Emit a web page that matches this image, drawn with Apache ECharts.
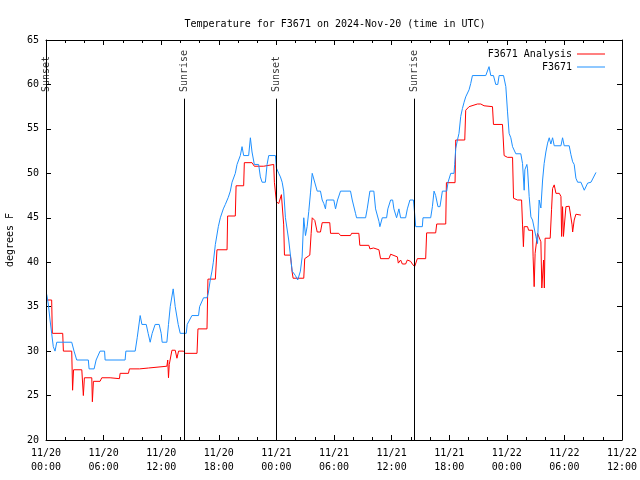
<!DOCTYPE html>
<html>
<head>
<meta charset="utf-8">
<script src="https://cdn.jsdelivr.net/npm/echarts@6/dist/echarts.min.js"></script>
<style>
html,body{margin:0;padding:0;background:#fff;}
#chart{width:640px;height:480px;}
</style>
</head>
<body>
<div id="chart"></div>
<script>
// Hours since 2024-11-20 00:00 UTC
const blueHours = [0.07,0.24,0.42,0.59,0.76,0.94,1.12,2.68,2.92,3.20,4.41,4.49,5.01,5.22,5.63,6.10,6.16,6.33,8.24,8.32,9.29,9.50,9.81,9.91,9.99,10.44,10.64,10.85,11.06,11.37,11.79,12.00,12.10,12.59,12.76,12.94,13.25,13.46,13.77,13.98,14.61,14.71,15.20,15.89,16.00,16.41,16.77,16.90,17.11,17.29,17.43,17.64,17.95,18.16,18.47,18.68,18.99,19.20,19.38,19.72,19.90,20.24,20.42,20.59,21.11,21.29,21.46,21.70,22.15,22.33,22.51,22.85,23.03,23.20,23.90,24.00,24.24,24.42,24.60,24.76,24.94,25.28,25.46,25.64,25.98,26.22,26.50,26.68,26.85,27.03,27.20,27.37,27.55,27.73,27.89,28.25,28.59,28.77,28.94,29.11,29.22,29.98,30.16,30.37,30.68,31.72,31.90,32.24,32.35,33.29,33.46,33.74,34.15,34.33,34.68,34.78,35.03,35.48,35.61,35.90,36.11,36.24,36.52,36.76,36.94,37.46,37.64,37.91,38.27,38.40,38.51,39.20,39.27,40.07,40.25,40.42,40.59,40.83,41.04,41.29,41.74,41.88,42.16,42.50,42.57,42.68,42.86,43.02,43.20,43.38,43.55,43.72,44.07,44.24,44.42,45.81,45.98,46.15,46.33,46.61,46.85,47.06,47.20,47.66,47.90,48.07,48.24,48.42,48.60,48.94,49.46,49.64,49.81,49.88,50.09,50.16,50.33,50.51,50.68,51.03,51.20,51.37,51.55,51.73,51.89,52.07,52.25,52.42,52.59,52.77,52.94,53.64,53.81,53.98,54.50,54.68,54.86,55.02,55.20,55.38,55.72,56.07,56.42,56.77,57.29];
const blueTemps = [36.4,35.3,33.5,32,30.5,30,31,31,30,29,29,28,28,29,30,30,29,29,29,30,30,31.5,34,34,33,33,32,31,32,33,33,32,31,31,33,35,37,35,33,32,32,33,34,34,35,36,36,36.5,38,39,40,42,44,45,46,46.5,47.3,48,49,50,51,52,53,52,52,54,52.4,51,51,49.6,49,49,51,52,52,50.6,50,49.6,49,48,45,42.5,40.8,39,38.5,38,39,40.6,45,43,44,45.7,47.8,50,50,48,48,47,46.6,46,47,47,46,47,48,48,47,45.5,45,45,46,48,48,46,44.6,44,45,45,46,47,47,46,45,46,45,45,46,47,47,45.5,44,44,45,45,46.25,48,47.5,46.25,46.25,48,48,49,50,50,51,52.8,53.75,54.5,56.4,57.3,58,58.6,59.4,60.1,61,61,61.2,62,61,61,60,60,61,61,59.75,57,54.5,54,53,52.2,52.2,51.1,48.1,50.4,51,50.5,47.4,45.1,44.75,42.9,42.1,47,46.1,49.25,51.1,52.4,53.4,54,53.3,54,53.1,53.1,54,53.1,53.1,52.1,51.3,51,49.45,49,49,48.1,48.9,49,50.1];

const redHours = [0.07,0.59,0.66,1.74,1.81,2.68,2.77,2.87,3.73,3.89,4.00,4.77,4.83,4.94,5.63,5.81,6.68,6.86,7.65,7.72,8.59,8.69,9.74,9.81,10.68,10.78,12.59,12.68,12.76,12.84,13.12,13.46,13.64,13.81,14.33,14.50,15.73,15.83,16.77,16.87,17.64,17.81,18.86,18.92,19.72,19.80,20.59,20.66,21.46,21.70,22.68,22.85,23.72,23.79,24.00,24.24,24.52,24.70,24.76,24.84,25.46,25.64,25.74,26.85,26.95,27.48,27.62,27.73,28.00,28.25,28.59,28.77,29.56,29.64,30.50,30.68,31.72,31.83,32.59,32.69,33.63,33.74,34.12,34.68,34.85,35.72,35.90,36.60,36.70,36.94,37.12,37.46,37.64,37.98,38.16,38.40,38.68,39.55,39.65,40.59,40.70,41.64,41.71,42.61,42.68,43.62,43.72,44.07,44.94,45.29,45.63,46.51,46.61,47.55,47.72,48.07,48.60,48.70,49.11,49.54,49.64,49.73,49.81,50.16,50.27,50.68,50.74,50.85,50.95,51.20,51.55,51.65,51.83,51.91,51.99,52.52,52.66,52.77,52.94,53.12,53.47,53.64,53.71,53.81,53.90,54.16,54.50,54.80,54.86,55.02,55.20,55.72];
const redTemps = [35.75,35.75,32,32,30,30,25.6,27.9,27.9,25,27,27,24.3,26.6,26.6,27,27,26.9,26.9,27.5,27.5,28,28,28.1,28.1,28.3,28.3,29,27,28.5,30.1,30.1,29.2,30,30,29.75,29.75,32.5,32.5,38.1,38.1,41.4,41.4,45.2,45.2,48.6,48.6,51.2,51.2,50.8,50.8,51,51,49,46.8,46.6,47.6,47.6,44.2,40.8,40.8,38.9,38.2,38.2,40.4,40.8,43.25,45,44.7,43.4,43.4,44.45,44.45,43.25,43.25,43,43,43.25,43.25,41.9,41.9,41.5,41.6,41.4,40.4,40.4,40.9,40.6,39.9,40.25,39.8,39.8,40.25,40.1,39.8,39.5,40.4,40.4,43.3,43.3,44.3,44.3,48.95,48.95,53.75,53.75,57.1,57.5,57.8,57.8,57.6,57.5,55.5,55.5,52,51.8,51.8,47.2,47,47,44.2,41.75,44,44,43.6,43.6,40.6,37.25,41,43.25,42.3,37.1,40.25,37.1,42.7,42.7,45.9,48.3,48.7,47.75,47.75,47.4,42.9,46.25,42.9,46.25,46.3,44.2,43.4,44.75,45.4,45.3];

const sunHours = [0, 14.4, 24, 38.4];
const sunLabels = ['Sunset', 'Sunrise', 'Sunset', 'Sunrise'];

const yTicks = [20,25,30,35,40,45,50,55,60,65];

const FONT = '"DejaVu Sans Mono", "Liberation Mono", monospace';
const zip = (a, b) => a.map((v, i) => [v, b[i]]);
const pad = n => (n < 10 ? '0' : '') + n;
const fmtX = v => {
  const day = 20 + Math.floor(v / 24);
  const hr = Math.round(v % 24);
  return '11/' + day + '\n' + pad(hr) + ':00';
};

const chart = echarts.init(document.getElementById('chart'), null, {renderer: 'canvas'});
const axisCommon = {
  axisLine: {onZero: false, lineStyle: {color: '#000', width: 1}},
  axisTick: {inside: true, length: 5, lineStyle: {color: '#000', width: 1}},
  splitLine: {show: false}
};
const legendText = {fontFamily: FONT, fontSize: 10, color: '#000'};
chart.setOption({
  animation: false,
  backgroundColor: '#fff',
  title: {
    text: 'Temperature for F3671 on 2024-Nov-20 (time in UTC)',
    left: 330, top: 14, textAlign: 'center',
    textStyle: {fontFamily: FONT, fontSize: 10, fontWeight: 'normal', color: '#000'}
  },
  legend: [
    {data: ['F3671 Analysis'], right: 30, top: 44, align: 'right', icon: 'rect', itemWidth: 28, itemHeight: 1,
     textStyle: legendText},
    {data: ['F3671'], right: 30, top: 57, align: 'right', icon: 'rect', itemWidth: 28, itemHeight: 1,
     textStyle: legendText}
  ],
  grid: {left: 46, right: 18, top: 40, bottom: 40, containLabel: false, outerBoundsMode: 'none'},
  xAxis: [
    Object.assign({}, axisCommon, {
      type: 'value', min: 0, max: 60, interval: 6, position: 'bottom',
      minorTick: {show: true, splitNumber: 3, length: 3, lineStyle: {color: '#000'}},
      axisLabel: {formatter: fmtX, color: '#000', fontFamily: FONT, fontSize: 10, lineHeight: 14, margin: 6}
    }),
    Object.assign({}, axisCommon, {
      type: 'value', min: 0, max: 60, interval: 6, position: 'top',
      minorTick: {show: true, splitNumber: 3, length: 3, lineStyle: {color: '#000'}},
      axisLabel: {show: false}
    })
  ],
  yAxis: [
    Object.assign({}, axisCommon, {
      type: 'value', min: yTicks[0], max: yTicks[yTicks.length - 1], interval: 5, position: 'left',
      name: 'degrees F', nameLocation: 'middle', nameRotate: 90, nameGap: 31,
      nameTextStyle: {fontFamily: FONT, fontSize: 10, color: '#000'},
      axisLabel: {color: '#000', fontFamily: FONT, fontSize: 10, margin: 7}
    }),
    Object.assign({}, axisCommon, {
      type: 'value', min: yTicks[0], max: yTicks[yTicks.length - 1], interval: 5, position: 'right',
      axisLabel: {show: false}
    })
  ],
  series: [
    {
      name: 'F3671 Analysis', type: 'line', data: zip(redHours, redTemps),
      symbol: 'none', showSymbol: false, color: '#ff0000',
      lineStyle: {width: 1, color: '#ff0000'}, z: 3
    },
    {
      name: 'F3671', type: 'line', data: zip(blueHours, blueTemps),
      symbol: 'none', showSymbol: false, color: '#1e90ff',
      lineStyle: {width: 1, color: '#1e90ff'}, z: 4
    },
    {
      name: 'sun', type: 'scatter', data: sunHours.map(h => [h, 59.15]),
      symbolSize: 0, silent: true, z: 5,
      label: {
        show: true, position: 'inside', rotate: 90, align: 'left', verticalAlign: 'middle',
        formatter: p => sunLabels[p.dataIndex],
        fontFamily: FONT, fontSize: 10, color: '#000'
      },
      markLine: {
        silent: true, symbol: 'none', animation: false,
        label: {show: false},
        lineStyle: {color: '#000', width: 1, type: 'solid'},
        data: sunHours.map(h => [{coord: [h, 20]}, {coord: [h, 58.4]}])
      }
    }
  ]
});
</script>
</body>
</html>
